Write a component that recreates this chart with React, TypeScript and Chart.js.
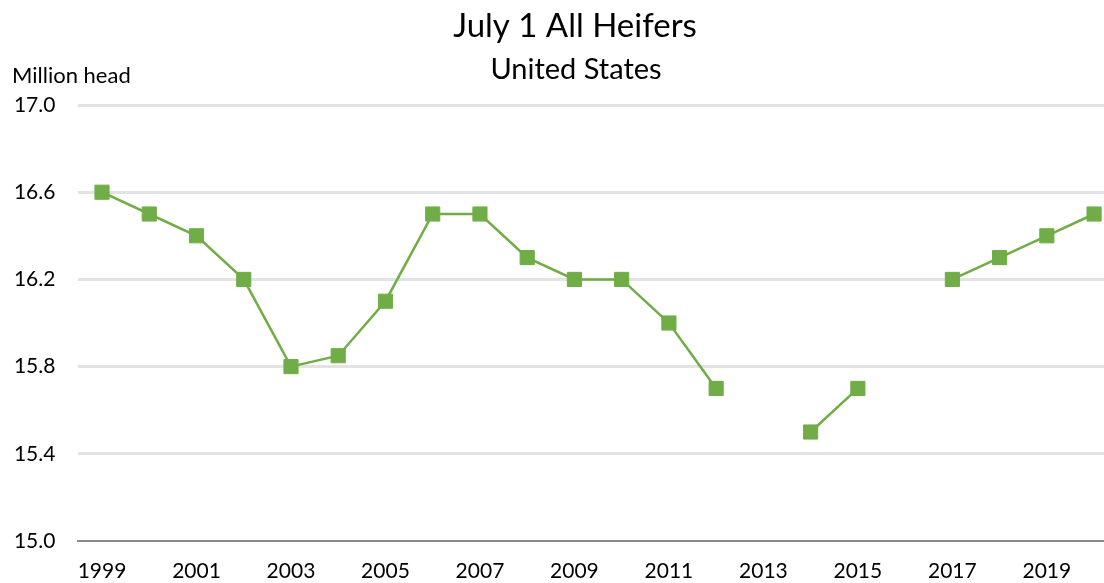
import React, { useEffect, useRef } from "react";
import { Chart, registerables } from "chart.js";

Chart.register(...registerables);

const years = [1999, 2000, 2001, 2002, 2003, 2004, 2005, 2006, 2007, 2008, 2009, 2010, 2011, 2012, 2013, 2014, 2015, 2016, 2017, 2018, 2019, 2020];
const heifers: (number | null)[] = [16.6, 16.5, 16.4, 16.2, 15.8, 15.85, 16.1, 16.5, 16.5, 16.3, 16.2, 16.2, 16.0, 15.7, null, 15.5, 15.7, null, 16.2, 16.3, 16.4, 16.5];
const xTickYears = [1999, 2001, 2003, 2005, 2007, 2009, 2011, 2013, 2015, 2017, 2019];
const yTicks = [15.0, 15.4, 15.8, 16.2, 16.6, 17.0];

const TITLE = "July 1 All Heifers";
const SUBTITLE = "United States";
const UNIT = "Million head";

const FONT = "Lato, 'Open Sans', sans-serif";
const GREEN = "#70ad47";

const textPlugin = {
  id: "texts",
  afterDraw(chart: any) {
    const ctx = chart.ctx;
    ctx.save();
    ctx.fillStyle = "#000";
    ctx.textBaseline = "alphabetic";
    ctx.textAlign = "center";
    ctx.font = `33px ${FONT}`;
    ctx.fillText(TITLE, 575, 37);
    ctx.font = `29px ${FONT}`;
    ctx.fillText(SUBTITLE, 576, 79);
    ctx.textAlign = "left";
    ctx.font = `22px ${FONT}`;
    ctx.fillText(UNIT, 12, 83);
    ctx.restore();
  },
};

export default function App() {
  const ref = useRef<HTMLCanvasElement>(null);
  useEffect(() => {
    document.body.style.margin = "0";
    const canvas = ref.current!;
    const chart = new Chart(canvas, {
      type: "line",
      data: {
        datasets: [
          {
            data: years.map((y, i) => ({ x: y, y: heifers[i] })) as any,
            borderColor: GREEN,
            backgroundColor: GREEN,
            borderWidth: 2.5,
            pointStyle: "rect",
            pointRadius: 10,
            pointBorderWidth: 1,
            pointBackgroundColor: GREEN,
            pointBorderColor: GREEN,
            spanGaps: false,
            tension: 0,
          },
        ],
      },
      options: {
        responsive: false,
        animation: false,
        layout: { autoPadding: false, padding: { top: 105, left: 0, right: 0, bottom: 0 } },
        plugins: {
          legend: { display: false },
          tooltip: { enabled: false },
        },
        scales: {
          x: {
            type: "linear",
            min: 1998.5,
            max: 2020.21,
            afterBuildTicks(scale: any) {
              scale.ticks = xTickYears.map((v) => ({ value: v }));
            },
            afterFit(scale: any) {
              scale.height = 42;
              scale.paddingLeft = 0;
              scale.paddingRight = 0;
            },
            grid: { display: false, drawTicks: false },
            border: { display: true, color: "#898989", width: 2 },
            ticks: {
              autoSkip: false,
              maxRotation: 0,
              padding: 18,
              color: "#000",
              font: { family: FONT, size: 21 },
              callback: (v: any) => String(v),
            },
          },
          y: {
            type: "linear",
            min: 15,
            max: 17,
            afterBuildTicks(scale: any) {
              scale.ticks = yTicks.map((v) => ({ value: v }));
            },
            afterFit(scale: any) {
              scale.width = 78.4;
            },
            grid: {
              drawTicks: false,
              lineWidth: 3,
              color: (c: any) => (c.tick && Math.abs(c.tick.value - 15) < 1e-6 ? "rgba(0,0,0,0)" : "#e3e3e3"),
            },
            border: { display: false },
            ticks: {
              padding: 23,
              color: "#000",
              font: { family: FONT, size: 21 },
              callback: (v: any) => Number(v).toFixed(1),
            },
          },
        },
      },
      plugins: [textPlugin],
    });
    return () => chart.destroy();
  }, []);
  return (
    <div style={{ position: "fixed", left: 0, top: 0, width: 1104, height: 583, overflow: "hidden", background: "#fff" }}>
      <canvas ref={ref} width={1104} height={583} style={{ display: "block" }} />
    </div>
  );
}
